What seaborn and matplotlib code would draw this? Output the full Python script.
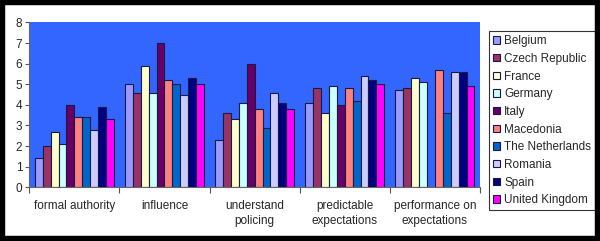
import matplotlib
matplotlib.use("Agg")
import matplotlib.pyplot as plt
import matplotlib.patches as mpatches
import seaborn as sns
import pandas as pd
import numpy as np

categories = ["formal authority", "influence", "understand\npolicing",
              "predictable\nexpectations", "performance on\nexpectations"]
countries = ["Belgium", "Czech Republic", "France", "Germany", "Italy",
             "Macedonia", "The Netherlands", "Romania", "Spain", "United Kingdom"]
belgium = [1.4, 5.0, 2.3, 4.1, 4.7]
czech = [2.0, 4.6, 3.6, 4.8, 4.8]
france = [2.7, 5.9, 3.3, 3.6, 5.3]
germany = [2.1, 4.6, 4.1, 4.9, 5.1]
italy = [4.0, 7.0, 6.0, 4.0, np.nan]
macedonia = [3.4, 5.2, 3.8, 4.8, 5.7]
netherlands = [3.4, 5.0, 2.9, 4.2, 3.6]
romania = [2.8, 4.5, 4.6, 5.4, 5.6]
spain = [3.9, 5.3, 4.1, 5.2, 5.6]
uk = [3.3, 5.0, 3.8, 5.0, 4.9]
series = [belgium, czech, france, germany, italy, macedonia, netherlands, romania, spain, uk]
colors = ["#9999FF", "#993366", "#FFFFCC", "#CCFFFF", "#660066",
          "#FF8080", "#0066CC", "#CCCCFF", "#000080", "#FF00FF"]

rows = []
for c, vals in zip(countries, series):
    for cat, v in zip(categories, vals):
        rows.append({"category": cat, "country": c, "value": v})
df = pd.DataFrame(rows)

sns.set_style("white")
plt.rcParams["font.family"] = ["Liberation Sans", "DejaVu Sans"]

fig = plt.figure(figsize=(6.0, 2.41), dpi=100)
fig.patch.set_facecolor("white")
ax = fig.add_axes([0.0488, 0.2228, 0.7512, 0.684])
ax.set_facecolor("#3366FF")

sns.barplot(data=df, x="category", y="value", hue="country", order=categories,
            hue_order=countries, palette=colors, width=0.876, ax=ax,
            edgecolor="#1a1a40", linewidth=0.8, saturation=1, errorbar=None)

ax.set_ylim(0, 8)
ax.set_xlim(-0.5, 4.5)
ax.set_yticks(range(0, 9))
ax.set_xlabel("")
ax.set_ylabel("")
ax.tick_params(axis="y", which="major", direction="out", length=3, width=0.8,
               color="#555555", labelsize=8.5, pad=2, left=True)
ax.tick_params(axis="x", which="major", length=0, labelsize=8.5, pad=9)
for lab in ax.get_xticklabels():
    lab.set_linespacing(1.35)
ax.set_xticks(np.arange(-0.5, 5.0, 1.0), minor=True)
ax.tick_params(axis="x", which="minor", direction="out", length=4, width=0.8,
               color="#555555", bottom=True)
for s in ["top", "right"]:
    ax.spines[s].set_visible(False)
for s in ["left", "bottom"]:
    ax.spines[s].set_color("#666666")
    ax.spines[s].set_linewidth(0.8)

handles = [mpatches.Patch(facecolor=col, edgecolor="#1a1a40", linewidth=0.8) for col in colors]
ax.get_legend().remove()
leg = fig.legend(handles, countries, loc="upper left", bbox_to_anchor=(0.815, 0.871),
                 bbox_transform=fig.transFigure, frameon=True, fancybox=False,
                 fontsize=8.5, handlelength=0.6, handleheight=0.6, handletextpad=0.35,
                 labelspacing=0.48, borderpad=0.35, borderaxespad=0)
leg.get_frame().set_edgecolor("black")
leg.get_frame().set_linewidth(0.8)

frame = mpatches.Rectangle((0, 0), 1, 1, transform=fig.transFigure, fill=False,
                           edgecolor="black", linewidth=7.5, zorder=10)
fig.patches.append(frame)

fig.savefig("out.png", dpi=100, facecolor="white")
